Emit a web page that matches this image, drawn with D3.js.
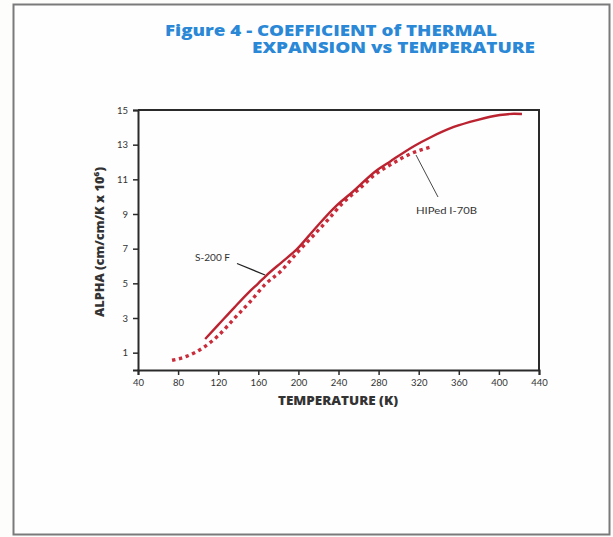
<!DOCTYPE html>
<html>
<head>
<meta charset="utf-8">
<script src="https://cdn.jsdelivr.net/npm/d3@7"></script>
<style>
  body { margin: 0; background: #fdfdfc; }
  text { font-family: "Lato", "Open Sans", sans-serif; }
  .heavy { font-family: "Open Sans", sans-serif; font-weight: 800; }
</style>
</head>
<body>
<div id="chart"></div>
<script>
// Data (temperature in K, alpha in cm/cm/K x 10^-6)
var s200Temp  = [107, 120, 136, 150, 160, 168, 183, 199, 215, 238, 254, 277, 292, 316, 332, 355, 378, 401, 415, 423];
var s200Alpha = [1.79, 2.6, 3.6, 4.45, 5.0, 5.45, 6.2, 7.0, 8.05, 9.48, 10.27, 11.47, 12.05, 12.94, 13.43, 14.02, 14.42, 14.71, 14.78, 14.77];

var hipTemp  = [74, 89, 105, 120, 136, 152, 167, 183, 198, 214, 230, 245, 261, 276, 292, 311, 333];
var hipAlpha = [0.56, 0.8, 1.29, 1.98, 2.97, 3.95, 4.95, 5.73, 6.72, 7.7, 8.7, 9.68, 10.47, 11.26, 11.85, 12.45, 12.88];

var xTicks = [40, 80, 120, 160, 200, 240, 280, 320, 360, 400, 440];
var yTicks = [1, 3, 5, 7, 9, 11, 13, 15];

var W = 613, H = 537;
var margin = { top: 110, left: 138, right: 74, bottom: 167 };

var svg = d3.select("#chart").append("svg")
    .attr("width", W)
    .attr("height", H);

// outer page frame
svg.append("rect")
    .attr("x", 13.5).attr("y", 4.5)
    .attr("width", 596).attr("height", 530)
    .attr("fill", "#fefefe")
    .attr("stroke", "#7a7a7a")
    .attr("stroke-width", 2);

// title
var title = svg.append("g").attr("fill", "#2a88d6").attr("font-size", 15.5);
title.append("text").attr("class", "heavy").attr("x", 165).attr("y", 35.5)
    .attr("textLength", 332).attr("lengthAdjust", "spacingAndGlyphs")
    .text("Figure 4 - COEFFICIENT of THERMAL");
title.append("text").attr("class", "heavy").attr("x", 252).attr("y", 52.5)
    .attr("textLength", 283).attr("lengthAdjust", "spacingAndGlyphs")
    .text("EXPANSION vs TEMPERATURE");

var x = d3.scaleLinear().domain([40, 440]).range([margin.left, W - margin.right]);
var y = d3.scaleLinear().domain([0, 15]).range([H - margin.bottom, margin.top]);

// plot frame (top and right sides)
svg.append("path")
    .attr("d", "M" + x(40) + "," + y(15) + "H" + x(440) + "V" + y(0))
    .attr("fill", "none")
    .attr("stroke", "#2a2a2a")
    .attr("stroke-width", 2);

var xAxis = svg.append("g")
    .attr("transform", "translate(0," + y(0) + ")")
    .call(d3.axisBottom(x).tickValues(xTicks).tickSize(5).tickPadding(4));

var yAxis = svg.append("g")
    .attr("transform", "translate(" + x(40) + ",0)")
    .call(d3.axisLeft(y).tickValues(yTicks).tickSize(5).tickPadding(5));

[xAxis, yAxis].forEach(function (a) {
    a.select(".domain").attr("stroke", "#2a2a2a").attr("stroke-width", 2);
    a.selectAll(".tick line").attr("stroke", "#2a2a2a").attr("stroke-width", 1.5);
    a.selectAll(".tick text").attr("fill", "#333").attr("font-size", 9.5)
        .style("font-family", "Lato, sans-serif");
});

// axis titles
svg.append("text").attr("class", "heavy")
    .attr("x", 278).attr("y", 405)
    .attr("textLength", 120).attr("lengthAdjust", "spacingAndGlyphs")
    .attr("font-size", 12).attr("fill", "#333")
    .text("TEMPERATURE (K)");

svg.append("text").attr("class", "heavy")
    .attr("transform", "translate(104,317) rotate(-90)")
    .attr("textLength", 150).attr("lengthAdjust", "spacingAndGlyphs")
    .attr("font-size", 11.5).attr("fill", "#333")
    .text("ALPHA (cm/cm/K x 10\u2076)");

var line = d3.line().curve(d3.curveMonotoneX)
    .x(function (d) { return x(d[0]); })
    .y(function (d) { return y(d[1]); });

var s200 = d3.zip(s200Temp, s200Alpha);
var hip = d3.zip(hipTemp, hipAlpha);

svg.append("path")
    .datum(hip)
    .attr("d", line)
    .attr("fill", "none")
    .attr("stroke", "#c92c3a")
    .attr("stroke-width", 3.4)
    .attr("stroke-dasharray", "3.4,3.6");

svg.append("path")
    .datum(s200)
    .attr("d", line)
    .attr("fill", "none")
    .attr("stroke", "#bb2330")
    .attr("stroke-width", 2.4);

// annotations
var ann = svg.append("g").attr("font-size", 9.5).attr("fill", "#333");
ann.append("text").attr("x", 195).attr("y", 261)
    .attr("textLength", 35).attr("lengthAdjust", "spacingAndGlyphs").text("S-200 F");
svg.append("line")
    .attr("x1", 237).attr("y1", 263.5).attr("x2", 265).attr("y2", 275)
    .attr("stroke", "#222").attr("stroke-width", 1.3);

ann.append("text").attr("x", 416).attr("y", 214)
    .attr("textLength", 61).attr("lengthAdjust", "spacingAndGlyphs").text("HIPed I-70B");
svg.append("line")
    .attr("x1", 416).attr("y1", 155).attr("x2", 438).attr("y2", 197)
    .attr("stroke", "#333").attr("stroke-width", 0.9);
</script>
</body>
</html>
